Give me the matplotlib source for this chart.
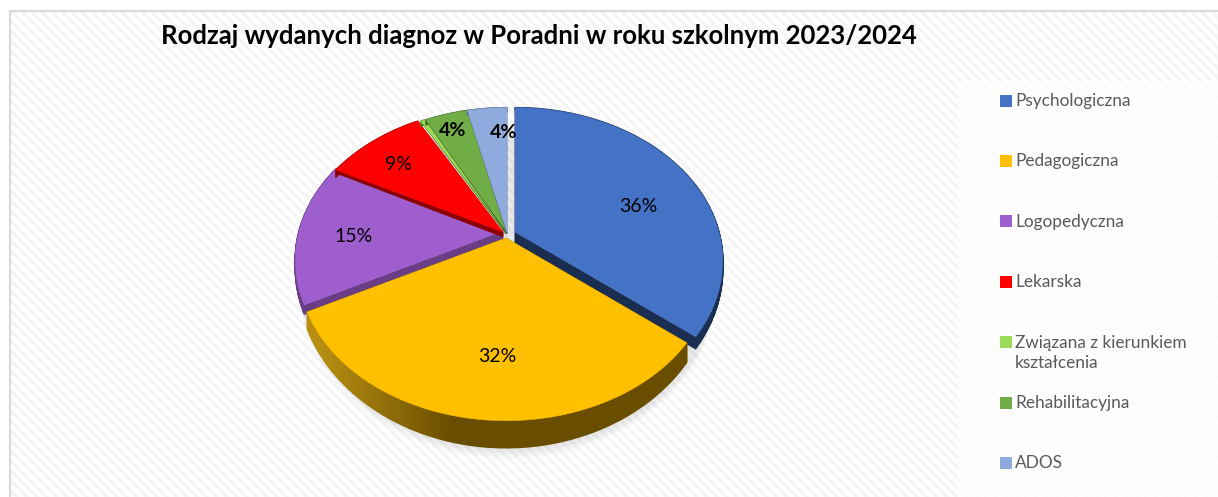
import numpy as np
import matplotlib
matplotlib.use("Agg")
import matplotlib.pyplot as plt
from matplotlib.patches import Polygon, Rectangle
from matplotlib.colors import to_rgb

plt.rcParams['font.family'] = ['Lato', 'DejaVu Sans']

title = "Rodzaj wydanych diagnoz w Poradni w roku szkolnym 2023/2024"
categories = ["Psychologiczna", "Pedagogiczna", "Logopedyczna", "Lekarska",
              "Związana z kierunkiem\nkształcenia", "Rehabilitacyjna", "ADOS"]
values = [35.8, 31.8, 15.1, 9.4, 0.4, 4.0, 3.7]
colors = ["#4472C4", "#FFC000", "#9E5ECE", "#FF0000", "#9BDB57", "#70AD47", "#8FAADC"]
wall_colors = ["#1A2E52", "#6A4E00", "#6A3D85", "#8B0000", "#4F7A20", "#3F6A22", "#56678A"]
label_bold = [False, False, False, False, None, True, True]
label_xy = [(638, 207), (497, 356), (354, 237), (398, 164), None, (453, 131), (504, 133)]
apex = [(515, 232), (506, 238), (503, 231), (503, 232), (506, 232), (507, 232), (507, 232)]
radial_depth = [12, 11, 12, 5, 2, 2, 2]
rim_scale = [0.6, 1.0, 0.55, 1.0, 1.0, 1.0, 1.0]
draw_order = [2, 3, 4, 5, 6, 0, 1]

W, H = 1218, 497
A, B, P = 204.0, 148.0, 0.19

fig = plt.figure(figsize=(W / 100, H / 100), dpi=100)
ax = fig.add_axes([0, 0, 1, 1])
ax.set_xlim(0, W)
ax.set_ylim(H, 0)
ax.axis("off")

# striped chart-area background
yy, xx = np.mgrid[0:H, 0:W]
phase = ((xx - yy) % 10) / 10.0
shade = 1.0 - 0.045 * (0.5 + 0.5 * np.cos(2 * np.pi * phase))
shade[yy < 11] = 1.0
shade[xx < 10] = 1.0
ax.imshow(shade, cmap="gray", vmin=0, vmax=1, extent=(0, W, H, 0), aspect="auto",
          interpolation="nearest", zorder=0)
ax.set_xlim(0, W)
ax.set_ylim(H, 0)
ax.plot([10, 10, W], [H, 11, 11], color="#D9D9D9", lw=1.5, zorder=1)
ax.add_patch(Rectangle((958, 81), W - 958, H - 81, fc="white", ec="none", alpha=0.72, zorder=1))


def project(theta, r, c):
    u, v = r * np.sin(theta), r * np.cos(theta)
    w = 1 + P * v
    return c[0] + A * u / w, c[1] - B * v / w, v


def depth(v):
    return 11.0 * np.exp(-0.9 * v)


def top_points(a0, a1, c):
    th = np.linspace(a0, a1, max(int(abs(a1 - a0) * 60), 3))
    x, y, _ = project(th, 1.0, c)
    return [(c[0], c[1])] + list(zip(x, y))


def mix(c1, c2, t):
    c1, c2 = np.array(to_rgb(c1)), np.array(to_rgb(c2))
    return tuple(c1 + (c2 - c1) * t)


# soft shadow below the pie
th_all = np.linspace(0, 2 * np.pi, 240)
for k in range(7):
    x, y, v = project(th_all, 1.0, (508, 240))
    ax.add_patch(Polygon(np.column_stack([x, y + depth(v) + 1 + k * 1.3]),
                         fc="black", ec="none", alpha=0.012, zorder=2))

fractions = np.array(values) / np.sum(values) * 2 * np.pi
starts = np.concatenate([[0], np.cumsum(fractions)[:-1]])

z = 3
for i in draw_order:
    a0, a1 = starts[i], starts[i] + fractions[i]
    c = apex[i]
    wall = wall_colors[i]
    rd = radial_depth[i]
    # radial faces
    for a in (a0, a1):
        x, y, v = project(a, 1.0, c)
        d1 = rd * depth(v) / depth(0.0) * rim_scale[i]
        ax.add_patch(Polygon([(c[0], c[1]), (x, y), (x, y + d1), (c[0], c[1] + rd)],
                             fc=wall, ec=wall, lw=0.3, zorder=z))
    z += 1
    # outer rim
    th = np.linspace(a0, a1, max(int((a1 - a0) * 90), 3))
    x, y, v = project(th, 1.0, c)
    d = depth(v) * rim_scale[i]
    for j in range(len(th) - 1):
        col = wall
        if i == 1:
            col = mix("#B98F12", wall, float(np.clip((x[j] - 318) / 135, 0, 1)))
        ax.add_patch(Polygon([(x[j], y[j]), (x[j + 1], y[j + 1]),
                              (x[j + 1], y[j + 1] + d[j + 1]), (x[j], y[j] + d[j])],
                             fc=col, ec=col, lw=1.0, zorder=z))
    z += 1
    ax.add_patch(Polygon(top_points(a0, a1, c), fc=colors[i], ec=colors[i], lw=0.3, zorder=z))
    z += 1

for val, xy, bold in zip(values, label_xy, label_bold):
    if xy is None:
        continue
    ax.text(xy[0], xy[1], f"{round(val)}%", ha="center", va="center", fontsize=14,
            fontweight="bold" if bold else "normal", color="black", zorder=100)

ax.text(539, 36, title, ha="center", va="center", fontsize=18.5, fontweight="bold",
        color="black", zorder=100)

for i, (name, col) in enumerate(zip(categories, colors)):
    y = 100.5 + 60.4 * i
    ax.add_patch(Rectangle((1000, y - 6), 12, 12, fc=col, ec="none", zorder=100))
    ax.text(1015, y - 7.5, name, ha="left", va="top", fontsize=12.4, color="#595959",
            linespacing=1.35, zorder=100)

fig.savefig("out.png", dpi=100)
